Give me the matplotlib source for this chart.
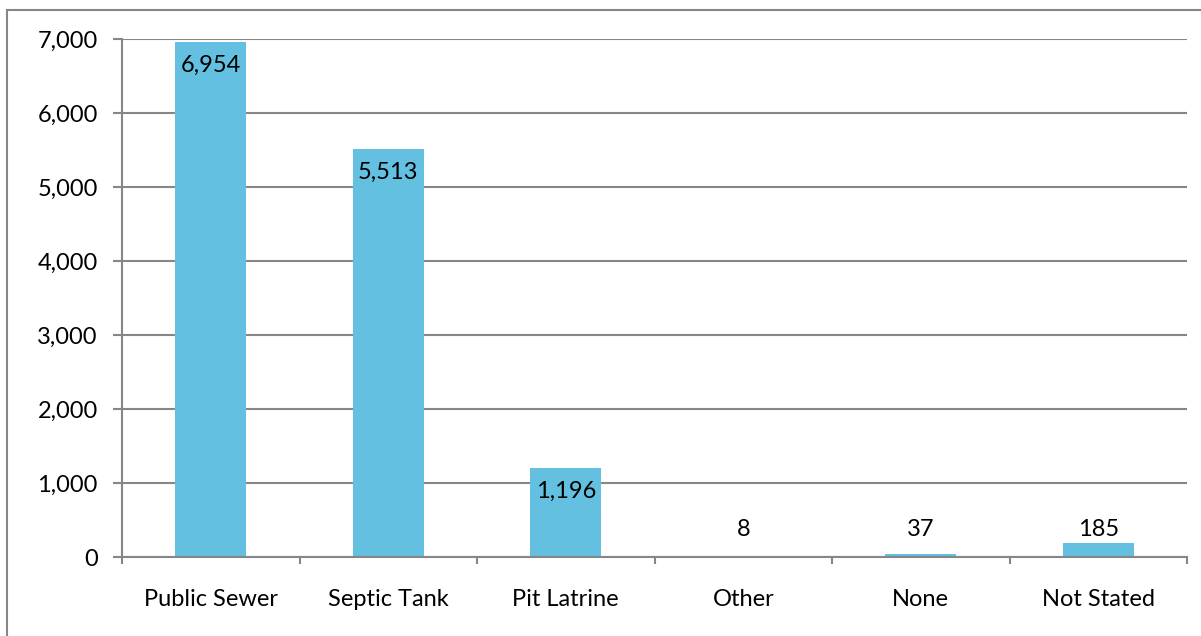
import matplotlib
matplotlib.use("Agg")
import matplotlib.pyplot as plt
from matplotlib.patches import Rectangle

categories = ["Public Sewer", "Septic Tank", "Pit Latrine", "Other", "None", "Not Stated"]
counts = [6954, 5513, 1196, 8, 37, 185]
yticks = [0, 1000, 2000, 3000, 4000, 5000, 6000, 7000]

bar_color = "#63C0E0"
grid_color = "#868686"

plt.rcParams["font.family"] = ["Lato", "DejaVu Sans"]
plt.rcParams["font.size"] = 17

W, H = 1201, 636
fig = plt.figure(figsize=(W / 100, H / 100), dpi=100)
ax = fig.add_axes([122 / W, 1 - 557 / H, (1187 - 122) / W, (557 - 39) / H])

x = list(range(len(categories)))
ax.bar(x, counts, width=0.4, color=bar_color, zorder=3)

ax.set_xlim(-0.5, len(categories) - 0.5)
ax.set_ylim(0, 7000)
ax.set_yticks(yticks)
ax.set_yticklabels([f"{v:,}" for v in yticks])
ax.yaxis.grid(True, color=grid_color, linewidth=1.5, zorder=0)

# category boundaries get the tick marks, labels sit on minor ticks
ax.set_xticks([i - 0.5 for i in range(len(categories) + 1)])
ax.set_xticklabels([])
ax.set_xticks(x, minor=True)
ax.set_xticklabels(categories, minor=True)
ax.tick_params(axis="x", which="major", length=5, width=1.5, color=grid_color, direction="out")
ax.tick_params(axis="x", which="minor", length=0, pad=23)
ax.tick_params(axis="y", length=6.5, width=1.5, color=grid_color, pad=11)

for side in ["top", "right"]:
    ax.spines[side].set_visible(False)
for side in ["left", "bottom"]:
    ax.spines[side].set_color(grid_color)
    ax.spines[side].set_linewidth(1.5)
    ax.spines[side].set_zorder(4)

# data labels: inside end for tall bars, above the base for short ones
for xi, v in zip(x, counts):
    if v >= 1000:
        ax.annotate(f"{v:,}", (xi, v), xytext=(0, -9), textcoords="offset points",
                    ha="center", va="top", zorder=5)
    else:
        ax.annotate(f"{v:,}", (xi, 0), xytext=(0, 12), textcoords="offset points",
                    ha="center", va="bottom", zorder=5)

# chart area border
fig.patches.append(Rectangle((7 / W, -0.1), 1.2, 1 - 10 / H + 0.1,
                             transform=fig.transFigure, fill=False,
                             edgecolor=grid_color, linewidth=1.5))

fig.savefig("out.png", dpi=100)
